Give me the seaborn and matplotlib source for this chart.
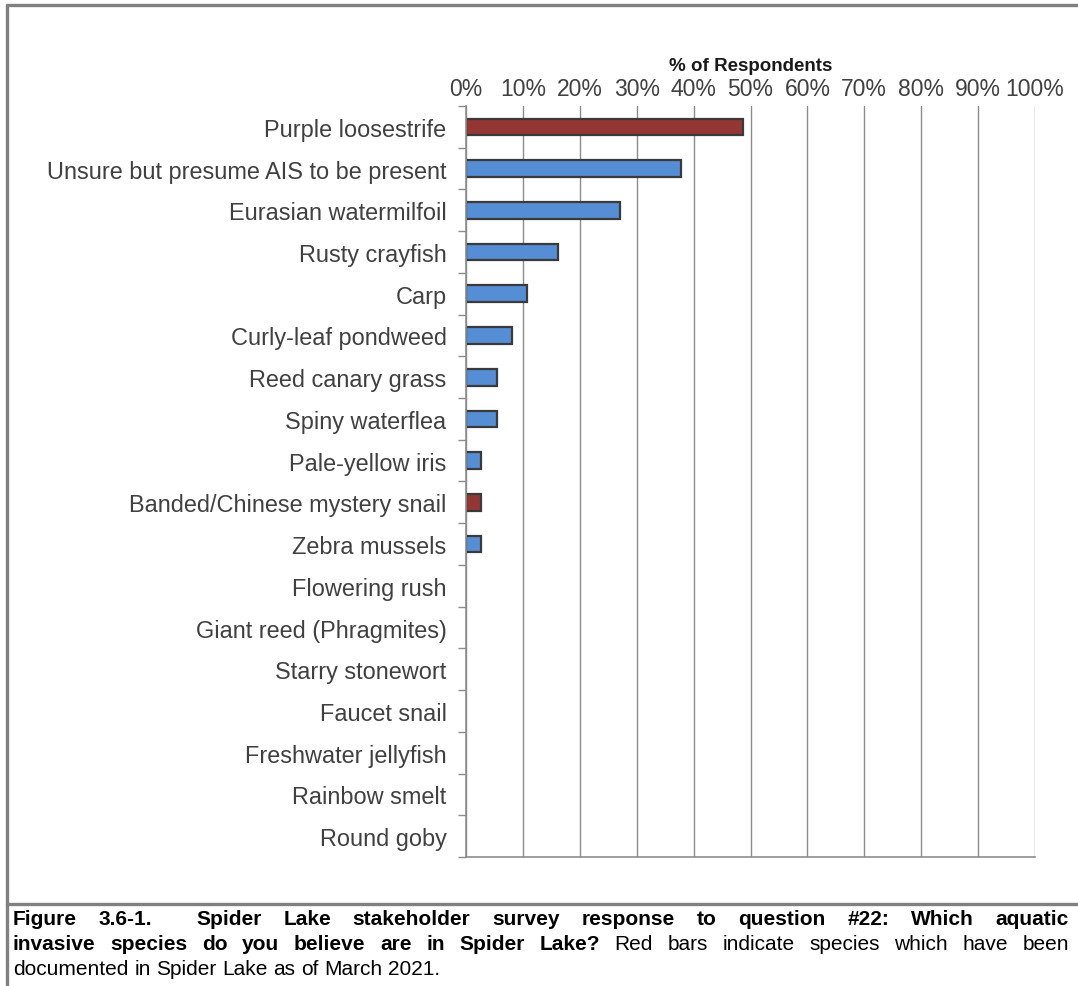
import pandas as pd
import numpy as np
import matplotlib.pyplot as plt
import seaborn as sns
from matplotlib.lines import Line2D

species = ['Purple loosestrife', 'Unsure but presume AIS to be present', 'Eurasian watermilfoil',
           'Rusty crayfish', 'Carp', 'Curly-leaf pondweed', 'Reed canary grass', 'Spiny waterflea',
           'Pale-yellow iris', 'Banded/Chinese mystery snail', 'Zebra mussels', 'Flowering rush',
           'Giant reed (Phragmites)', 'Starry stonewort', 'Faucet snail', 'Freshwater jellyfish',
           'Rainbow smelt', 'Round goby']
pct = [48.6, 37.8, 27.0, 16.2, 10.8, 8.1, 5.4, 5.4, 2.7, 2.7, 2.7, 0, 0, 0, 0, 0, 0, 0]
documented = [True, False, False, False, False, False, False, False, False, True, False,
              False, False, False, False, False, False, False]
xticks = list(range(0, 101, 10))

sns.set_style('white')
plt.rcParams['font.family'] = ['Liberation Sans', 'DejaVu Sans']

W, H = 1078, 987
fig = plt.figure(figsize=(W / 100, H / 100), dpi=100)
ax = fig.add_axes([466 / W, 1 - 858 / H, (1035 - 466) / W, (858 - 107) / H])

df = pd.DataFrame({'species': species, 'pct': pct,
                   'group': ['doc' if d else 'not' for d in documented]})
colors = {'doc': '#943634', 'not': '#558ED5'}
sns.barplot(data=df, x='pct', y='species', hue='group', palette=colors, order=species,
            dodge=False, width=0.4, saturation=1, edgecolor='#3a3a3a', linewidth=1.6,
            legend=False, ax=ax)
# excel doesn't draw the empty bars
for p in ax.patches:
    if p.get_width() == 0:
        p.set_visible(False)

ax.set_xlim(0, 100)
ax.set_xticks(xticks)
ax.set_xticklabels([f'{v}%' for v in xticks])
ax.xaxis.tick_top()
ax.xaxis.set_label_position('top')
ax.tick_params(axis='x', length=0, pad=4.5, labelsize=16.5, labelcolor='#404040')
ax.set_xlabel('% of Respondents', fontweight='bold', fontsize=13.5, labelpad=5, color='#1a1a1a')
ax.grid(axis='x', color='#8c8c8c', lw=1)
ax.set_axisbelow(True)
ax.set_ylabel('')
ax.set_ylim(17.5, -0.5)
ax.tick_params(axis='y', which='major', length=0, pad=14, labelsize=16.9, labelcolor='#404040')
ax.set_yticks(np.arange(-0.5, 18, 1), minor=True)
ax.tick_params(axis='y', which='minor', left=True, length=6, color='#8c8c8c', width=1)
for s in ['top', 'right']:
    ax.spines[s].set_visible(False)
for s in ['left', 'bottom']:
    ax.spines[s].set_color('#8c8c8c')
    ax.spines[s].set_linewidth(1.2)

# frame around the figure + caption separator
border = dict(color='#808080', lw=2.4, transform=fig.transFigure)
fig.add_artist(Line2D([7 / W, 1], [1 - 6 / H, 1 - 6 / H], **border))
fig.add_artist(Line2D([7 / W, 7 / W], [0, 1 - 6 / H], **border))
fig.add_artist(Line2D([7 / W, 1], [1 - 905 / H, 1 - 905 / H], **border))


def caption_line(y, words, justify=True, x0=13, x1=1069, size=15):
    renderer = fig.canvas.get_renderer()
    texts = []
    for w, bold, gap in words:
        t = fig.text(0, 1 - y / H, w, fontsize=size, fontweight='bold' if bold else 'normal',
                     color='black', va='baseline', ha='left')
        texts.append((t, gap))
    widths = [t.get_window_extent(renderer).width for t, _ in texts]
    a = fig.text(0, 0, 'a b', fontsize=size)
    b = fig.text(0, 0, 'ab', fontsize=size)
    space = a.get_window_extent(renderer).width - b.get_window_extent(renderer).width
    a.remove()
    b.remove()
    gaps = [g for _, g in texts[:-1]]
    unit = (x1 - x0 - sum(widths)) / sum(gaps) if justify else space
    x = x0
    for (t, g), w in zip(texts, widths):
        t.set_x(x / W)
        x += w + g * unit


line1 = 'Figure 3.6-1.  Spider Lake stakeholder survey response to question #22: Which aquatic'
line2b = 'invasive species do you believe are in Spider Lake?'
line2r = 'Red bars indicate species which have been'
line3 = 'documented in Spider Lake as of March 2021.'

w1 = [(w, True, 2 if w == '3.6-1.' else 1) for w in line1.split()]
w2 = [(w, True, 1) for w in line2b.split()] + [(w, False, 1) for w in line2r.split()]
w3 = [(w, False, 1) for w in line3.split()]
caption_line(925, w1)
caption_line(950, w2)
caption_line(975, w3, justify=False)

fig.savefig('out.png', dpi=100)
